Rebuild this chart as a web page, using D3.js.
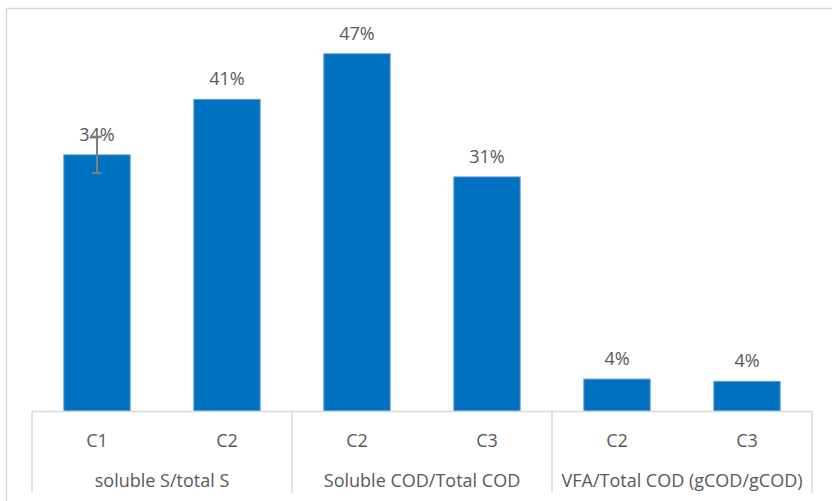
<!DOCTYPE html>
<html><head><meta charset="utf-8">
<script src="https://cdn.jsdelivr.net/npm/d3@7"></script>
<style>html,body{margin:0;padding:0;background:#fff;}svg{display:block;font-family:"Open Sans",sans-serif;}</style>
</head><body>
<svg id="c" width="832" height="501"></svg>
<script>
const groups = ["soluble S/total S", "Soluble COD/Total COD", "VFA/Total COD (gCOD/gCOD)"];
const categories = ["C1", "C2", "C2", "C3", "C2", "C3"];
const groupIndex = [0, 0, 1, 1, 2, 2];
const values = [0.337, 0.41, 0.47, 0.308, 0.042, 0.039];
const errors = [0.024, null, null, null, null, null];

const svg = d3.select("#c");
const W = 832, H = 501;
const plot = {left: 32, right: 812, top: 31, bottom: 411};
const grid = "#d9d9d9", txt = "#595959";
const fs = 18;

// chart frame
svg.append("path").attr("d", `M6.5,${H} V8.5 H${W}`).attr("fill","none").attr("stroke", grid).attr("stroke-width", 1.5);

const idx = values.map((d,i)=>i);
const x = d3.scaleBand().domain(idx).range([plot.left, plot.right]).paddingInner(0.49).paddingOuter(0.245);
const y = d3.scaleLinear().domain([0, 0.5]).range([plot.bottom, plot.top]);

// bars
svg.append("g").selectAll("rect").data(idx).join("rect")
  .attr("x", i => x(i)).attr("width", x.bandwidth())
  .attr("y", i => y(values[i])).attr("height", i => y(0) - y(values[i]))
  .attr("fill", "#0070c0").attr("stroke", "#5b9bd5").attr("stroke-width", 1);

// value labels
const fmt = d3.format(".0%");
svg.append("g").selectAll("text").data(idx).join("text")
  .attr("x", i => x(i) + x.bandwidth()/2).attr("y", i => y(values[i]) - 14)
  .attr("text-anchor", "middle").attr("fill", txt).attr("font-size", fs)
  .text(i => fmt(values[i]));

// error bars
const eg = svg.append("g").attr("stroke", "#7f7f7f").attr("stroke-width", 2);
idx.filter(i => errors[i] != null).forEach(i => {
  const cx = x(i) + x.bandwidth()/2;
  const y1 = y(values[i] + errors[i]), y2 = y(values[i] - errors[i]);
  eg.append("line").attr("x1", cx).attr("x2", cx).attr("y1", y1).attr("y2", y2);
  eg.append("line").attr("x1", cx-5).attr("x2", cx+5).attr("y1", y1).attr("y2", y1);
  eg.append("line").attr("x1", cx-5).attr("x2", cx+5).attr("y1", y2).attr("y2", y2);
});

// axis line
svg.append("line").attr("x1", plot.left).attr("x2", plot.right).attr("y1", y(0)+0.5).attr("y2", y(0)+0.5)
  .attr("stroke", grid).attr("stroke-width", 1.5);

// group separators
const step = x.step();
const bounds = [];
groups.forEach((g, gi) => {
  const members = idx.filter(i => groupIndex[i] === gi);
  const x0 = x(members[0]) - x.paddingInner()*step/2;
  const x1 = x(members[members.length-1]) + x.bandwidth() + x.paddingInner()*step/2;
  bounds.push([x0, x1]);
});
const sepX = [bounds[0][0], ...bounds.map(b => b[1])];
svg.append("g").selectAll("line").data(sepX).join("line")
  .attr("x1", d => d).attr("x2", d => d).attr("y1", y(0)).attr("y2", 493)
  .attr("stroke", grid).attr("stroke-width", 1.5);

// category labels
svg.append("g").selectAll("text").data(idx).join("text")
  .attr("x", i => x(i) + x.bandwidth()/2).attr("y", 446.5)
  .attr("text-anchor", "middle").attr("fill", txt).attr("font-size", fs)
  .text(i => categories[i]);

// group labels
svg.append("g").selectAll("text").data(groups).join("text")
  .attr("x", (g, gi) => (bounds[gi][0] + bounds[gi][1]) / 2).attr("y", 486.5)
  .attr("text-anchor", "middle").attr("fill", txt).attr("font-size", fs)
  .text(g => g);
</script>
</body></html>
